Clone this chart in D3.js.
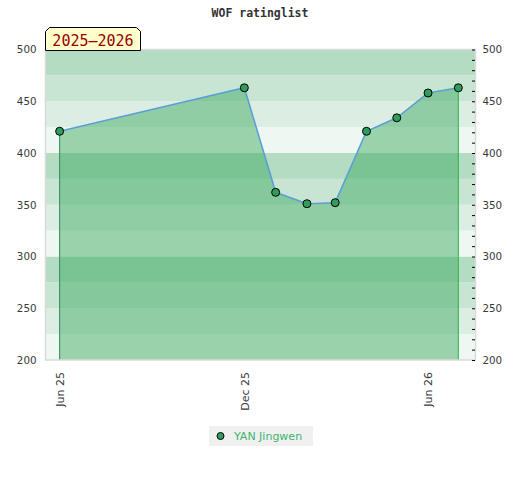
<!DOCTYPE html>
<html>
<head>
<meta charset="utf-8">
<script src="https://cdn.jsdelivr.net/npm/d3@7"></script>
<style>
  body { margin: 0; background: #fff; }
  svg { display: block; }
</style>
</head>
<body>
<svg id="chart" width="520" height="480"></svg>
<script>
// rating list dates and values (one player)
const listDates = ['2025-06-01', '2025-12-01', '2026-01-01', '2026-02-01', '2026-03-01',
  '2026-04-01', '2026-05-01', '2026-06-01', '2026-07-01'];
const ratings = [421, 463, 362, 351, 352, 421, 434, 458, 463];
const playerName = 'YAN Jingwen';
const seasonLabel = '2025–2026';
const xTickDates = ['2025-06-01', '2025-12-01', '2026-06-01'];
const yTicks = [200, 250, 300, 350, 400, 450, 500];
const bandColors = ['#eff7f2', '#dceee3', '#c8e5d4', '#b3dcc3'];

const parse = d3.utcParse('%Y-%m-%d');
const data = listDates.map((d, i) => ({ date: parse(d), value: ratings[i] }));

const svg = d3.select('#chart');
const plotL = 45.5, plotR = 475.5, plotT = 49.5, plotB = 360;

const x = d3.scaleUtc()
  .domain([d3.utcDay.offset(data[0].date, -14), d3.utcDay.offset(data[data.length - 1].date, 17)])
  .range([plotL, plotR]);
const y = d3.scaleLinear().domain([200, 500]).range([plotB, plotT]);

// background bands, every 25 points, repeating each 100
const bands = d3.range(200, 500, 25);
svg.append('g').selectAll('rect')
  .data(bands)
  .join('rect')
  .attr('x', plotL)
  .attr('width', plotR - plotL)
  .attr('y', d => y(d + 25))
  .attr('height', d => y(d) - y(d + 25))
  .attr('fill', d => bandColors[((d - 200) / 25) % 4]);

// area under the line
svg.append('path')
  .datum(data)
  .attr('fill', 'rgb(60,170,97)')
  .attr('fill-opacity', 0.48)
  .attr('d', d3.area().x(d => x(d.date)).y0(plotB).y1(d => y(d.value)));

const first = data[0], last = data[data.length - 1];
svg.append('line')
  .attr('x1', x(first.date)).attr('x2', x(first.date))
  .attr('y1', y(first.value)).attr('y2', plotB)
  .attr('stroke', '#2e8b57').attr('stroke-width', 1);
svg.append('line')
  .attr('x1', x(last.date)).attr('x2', x(last.date))
  .attr('y1', y(last.value)).attr('y2', plotB)
  .attr('stroke', '#2db34f').attr('stroke-width', 1);

svg.append('path')
  .datum(data)
  .attr('fill', 'none')
  .attr('stroke', '#5b9fd6')
  .attr('stroke-width', 1.6)
  .attr('d', d3.line().x(d => x(d.date)).y(d => y(d.value)));

svg.append('g').selectAll('circle')
  .data(data)
  .join('circle')
  .attr('cx', d => x(d.date))
  .attr('cy', d => y(d.value))
  .attr('r', 4)
  .attr('fill', '#2f9e5c')
  .attr('stroke', '#000')
  .attr('stroke-width', 1);

// plot frame
svg.append('rect')
  .attr('x', plotL).attr('y', plotT)
  .attr('width', plotR - plotL).attr('height', plotB - plotT)
  .attr('fill', 'none').attr('stroke', '#dadada').attr('stroke-width', 1.5);

const axisFont = size => g => g.selectAll('text')
  .attr('font-family', 'DejaVu Sans')
  .attr('font-size', size)
  .attr('fill', '#3a3a3a');

// left axis, labels only
svg.append('g')
  .attr('transform', `translate(${plotL},0)`)
  .call(d3.axisLeft(y).tickValues(yTicks).tickSize(0).tickPadding(9))
  .call(g => g.select('.domain').remove())
  .call(axisFont(10.3));

// right axis: inner minor ticks + labels
svg.append('g')
  .attr('transform', `translate(${plotR - 0.5},0)`)
  .call(d3.axisLeft(y).ticks(30).tickSize(3).tickFormat(''))
  .call(g => g.select('.domain').remove())
  .call(g => g.selectAll('line').attr('stroke', '#000'));
svg.append('g')
  .attr('transform', `translate(${plotR},0)`)
  .call(d3.axisRight(y).tickValues(yTicks).tickSize(0).tickPadding(7))
  .call(g => g.select('.domain').remove())
  .call(axisFont(10.3));

// bottom axis, rotated labels
svg.append('g')
  .attr('transform', `translate(0,${plotB})`)
  .call(d3.axisBottom(x).tickValues(xTickDates.map(parse)).tickSize(0)
    .tickFormat(d3.utcFormat('%b %y')))
  .call(g => g.select('.domain').remove())
  .call(axisFont(11))
  .call(g => g.selectAll('text')
    .attr('transform', 'rotate(-90)')
    .attr('text-anchor', 'end')
    .attr('dy', '0.35em')
    .attr('x', -12)
    .attr('y', 0));

// title
svg.append('text')
  .attr('x', 260).attr('y', 17)
  .attr('text-anchor', 'middle')
  .attr('font-family', 'DejaVu Sans Mono')
  .attr('font-weight', 'bold')
  .attr('font-size', 11.5)
  .attr('fill', '#333')
  .text('WOF ratinglist');

// season label box with clipped top corners
const bx = 45.5, by = 27.5, bw = 95, bh = 23, c = 4;
svg.append('path')
  .attr('d', `M${bx},${by + bh}V${by + c}L${bx + c},${by}H${bx + bw - c}L${bx + bw},${by + c}V${by + bh}Z`)
  .attr('fill', '#ffffcc')
  .attr('stroke', '#000')
  .attr('stroke-width', 1);
svg.append('text')
  .attr('x', bx + bw / 2).attr('y', by + 18)
  .attr('text-anchor', 'middle')
  .attr('font-family', 'DejaVu Sans Mono')
  .attr('font-size', 15)
  .attr('fill', '#990000')
  .text(seasonLabel);

// legend
const legend = svg.append('g');
legend.append('rect')
  .attr('x', 209).attr('y', 426).attr('width', 104).attr('height', 20)
  .attr('fill', '#f0f0f0');
legend.append('circle')
  .attr('cx', 220.5).attr('cy', 436).attr('r', 3.5)
  .attr('fill', '#2f9e5c').attr('stroke', '#000');
legend.append('text')
  .attr('x', 234).attr('y', 440)
  .attr('font-family', 'DejaVu Sans')
  .attr('font-size', 11)
  .attr('fill', '#3cb46a')
  .text(playerName);
</script>
</body>
</html>
